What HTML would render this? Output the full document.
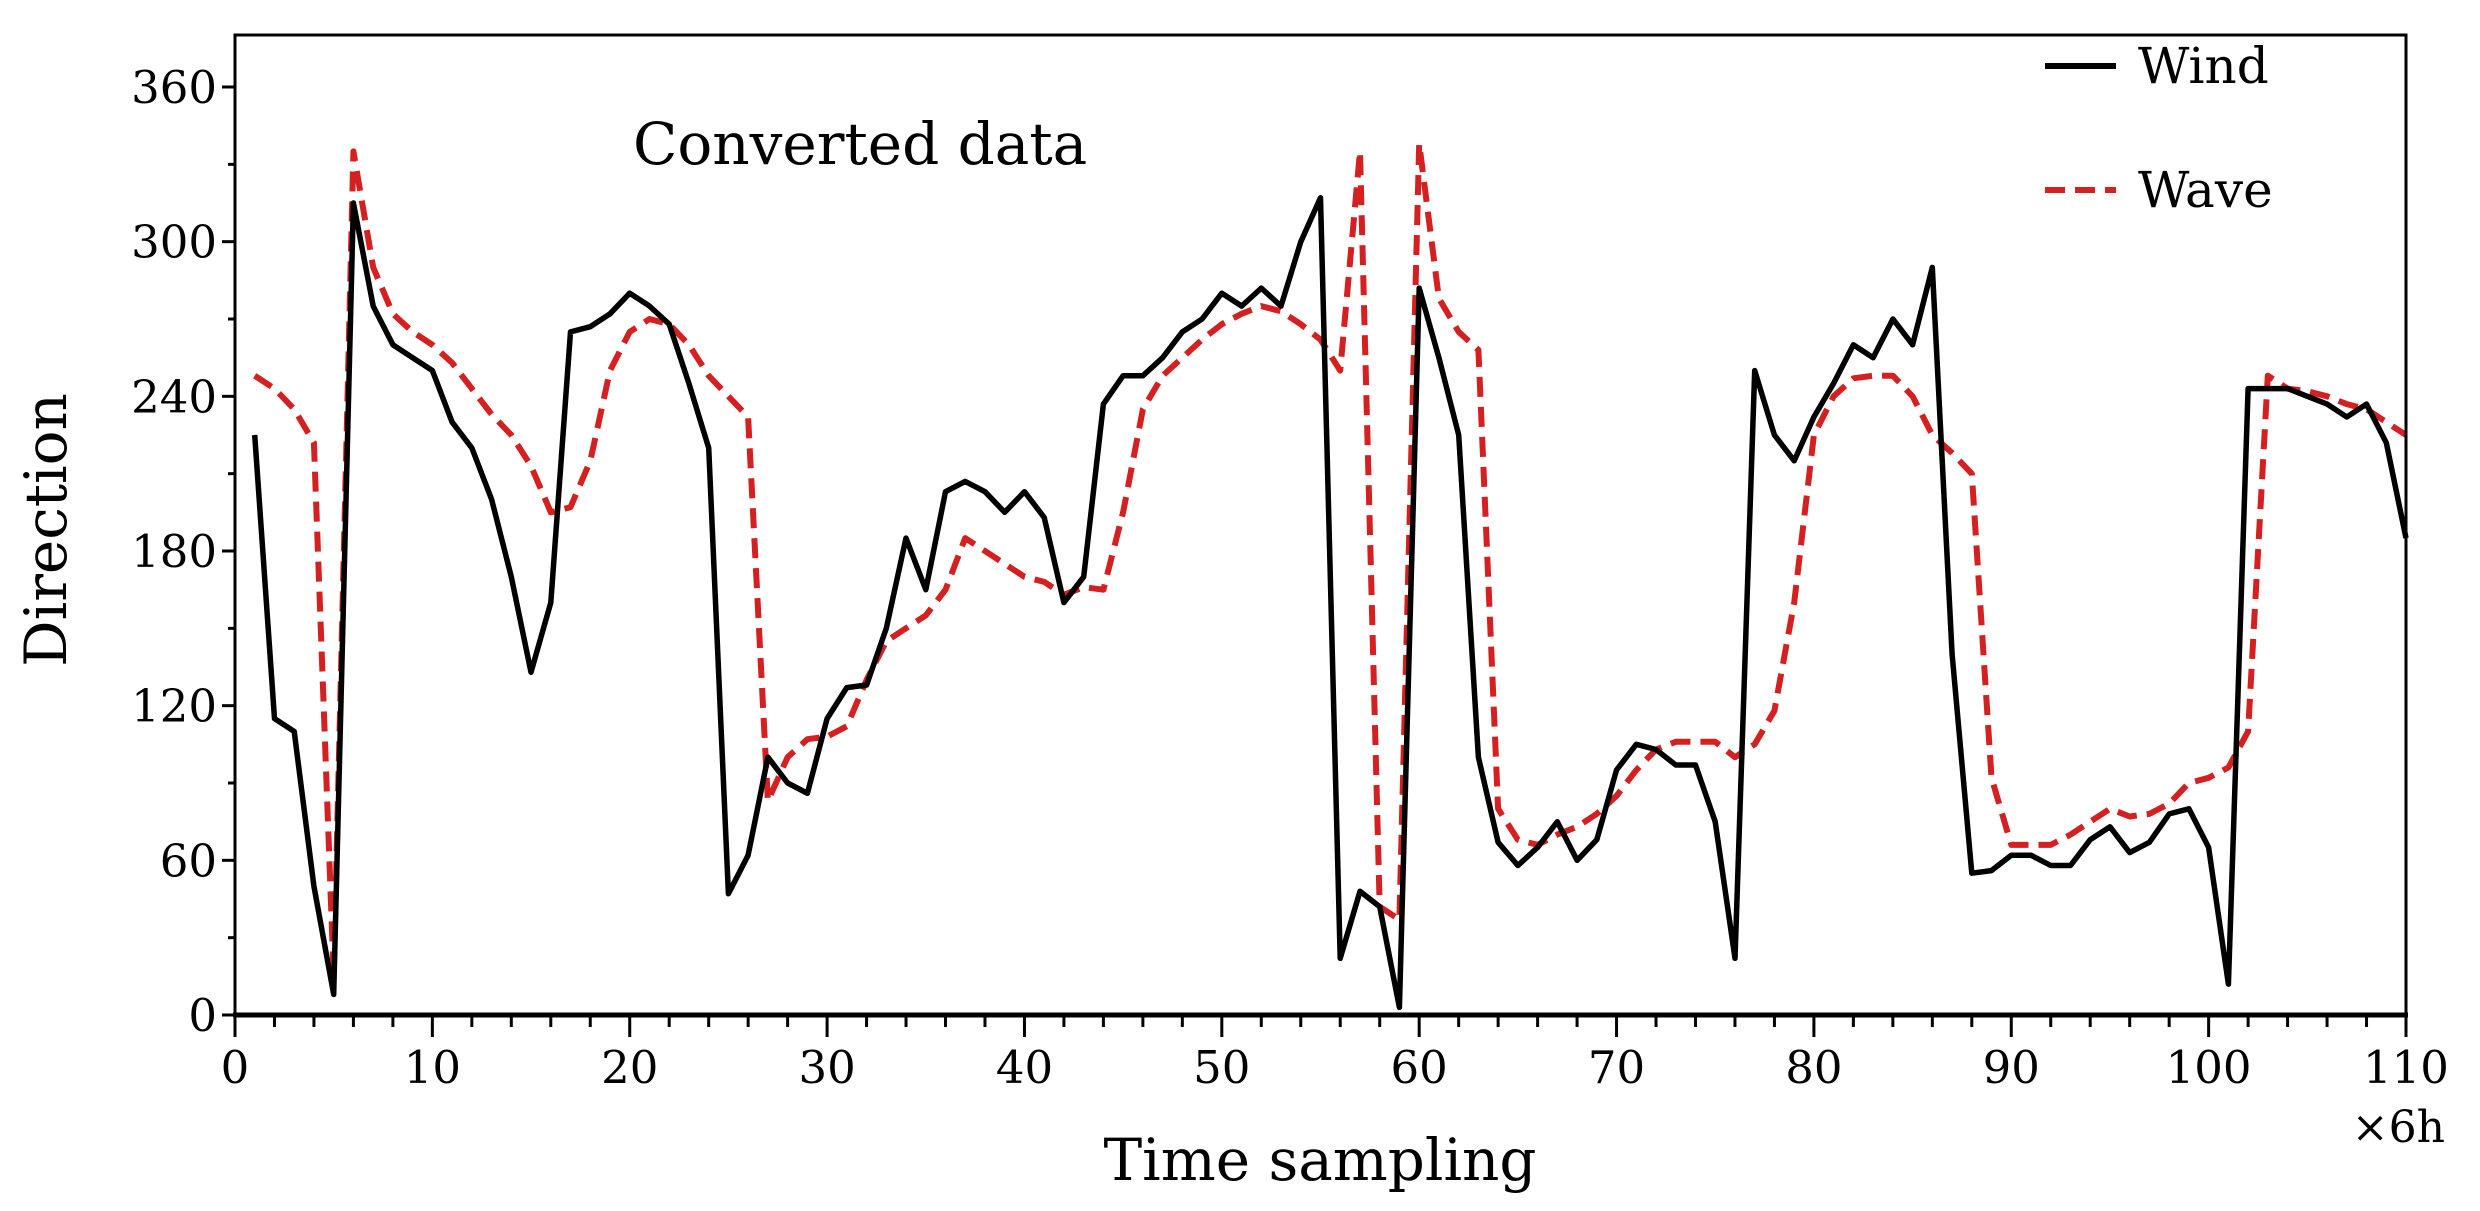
<!DOCTYPE html>
<html><head><meta charset="utf-8"><style>
html,body{margin:0;padding:0;background:#fff;}
svg{display:block;}
text{font-family:"DejaVu Serif","Liberation Serif",serif;fill:#000;}
</style></head><body>
<svg id="s" width="2480" height="1211" viewBox="0 0 2480 1211" xmlns="http://www.w3.org/2000/svg">
<rect width="2480" height="1211" fill="#fff"/>
<g id="ticks" stroke="#000" stroke-width="3"></g>
<g id="lbl" font-size="45"></g>
<polyline id="wave" fill="none" stroke="#d42020" stroke-width="6" stroke-dasharray="20,10" stroke-linejoin="round"/>
<polyline id="wind" fill="none" stroke="#000" stroke-width="5.5" stroke-linejoin="round"/>
<rect x="235" y="35" width="2171" height="980" fill="none" stroke="#000" stroke-width="3"/>
<line x1="233" y1="1015" x2="2408" y2="1015" stroke="#000" stroke-width="5"/>
<text x="633" y="164" font-size="58">Converted data</text>
<line x1="2045" y1="66" x2="2116" y2="66" stroke="#000" stroke-width="6"/>
<text x="2138" y="83" font-size="50">Wind</text>
<line x1="2045" y1="190" x2="2116" y2="190" stroke="#d42020" stroke-width="6" stroke-dasharray="20,10"/>
<text x="2138" y="207" font-size="50">Wave</text>
<text x="1320" y="1180" font-size="58" text-anchor="middle">Time sampling</text>
<text x="2445" y="1142" font-size="44" text-anchor="end">×6h</text>
<text x="0" y="0" font-size="58" text-anchor="middle" transform="translate(66,530) rotate(-90)">Direction</text>
</svg>
<script>
var X0=235,X1=2406,Y0=1015,Y1=87;
function px(x){return X0+(X1-X0)*x/110;}
function py(y){return Y0+(Y1-Y0)*y/360;}
var wind=[225,115,110,50,8,315,275,260,255,250,230,220,200,170,133,160,265,267,272,280,275,268,245,220,47,62,100,90,86,115,127,128,150,185,165,203,207,203,195,203,193,160,170,237,248,248,255,265,270,280,275,282,275,300,317,22,48,42,3,282,255,225,100,67,58,65,75,60,68,95,105,103,97,97,75,22,250,225,215,232,245,260,255,270,260,290,140,55,56,62,62,58,58,68,73,63,67,78,80,65,12,243,243,243,240,237,232,237,222,185];
var wave=[248,243,235,222,15,335,290,272,265,260,253,243,233,225,213,195,197,215,250,265,270,268,260,248,240,232,83,100,107,108,112,130,145,150,155,165,185,180,175,170,168,163,166,165,195,235,248,255,262,268,272,275,273,268,262,250,335,42,37,338,278,265,258,80,68,66,70,73,78,85,95,103,106,106,106,100,105,118,160,225,240,247,248,248,240,225,218,210,92,66,66,66,70,75,80,77,78,82,90,92,96,110,248,243,242,240,237,235,230,225];
function pts(a){return a.map(function(v,i){return px(i+1).toFixed(1)+","+py(v).toFixed(1);}).join(" ");}
document.getElementById("wind").setAttribute("points",pts(wind));
document.getElementById("wave").setAttribute("points",pts(wave));
var NS="http://www.w3.org/2000/svg",t=document.getElementById("ticks"),l=document.getElementById("lbl");
function ln(a,b,c,d){var e=document.createElementNS(NS,"line");e.setAttribute("x1",a);e.setAttribute("y1",b);e.setAttribute("x2",c);e.setAttribute("y2",d);t.appendChild(e);}
function tx(x,y,s,anc){var e=document.createElementNS(NS,"text");e.setAttribute("x",x);e.setAttribute("y",y);e.setAttribute("text-anchor",anc);e.textContent=s;l.appendChild(e);}
for(var v=0;v<=360;v+=30){var y=py(v);if(v%60==0){ln(X0-13,y,X0,y);tx(X0-18,y+16,v,"end");}else ln(X0-7,y,X0,y);}
for(var x=0;x<=110;x+=2){var xx=px(x);if(x%10==0){ln(xx,Y0,xx,Y0+22);tx(xx,Y0+68,x,"middle");}else ln(xx,Y0,xx,Y0+12);}
</script>
</body></html>
